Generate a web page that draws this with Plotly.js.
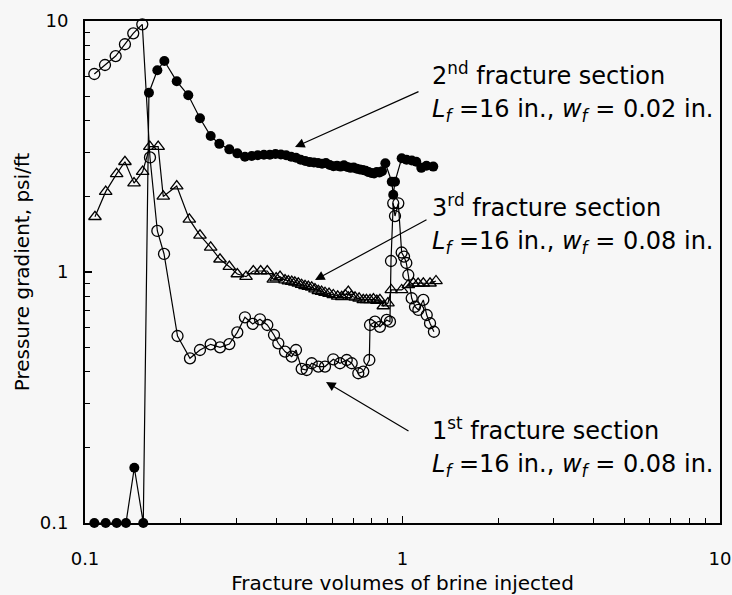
<!DOCTYPE html>
<html><head><meta charset="utf-8">
<script src="https://cdn.plot.ly/plotly-3.0.1.min.js"></script>
<style>html,body{margin:0;padding:0;background:#f7f7f7;} #chart{width:732px;height:595px;}</style>
</head><body><div id="chart"></div>
<script>
// 1st fracture section (open circles)
const sec1X = [0.107,0.1156,0.1249,0.1336,0.1419,0.1515,0.1602,0.169,0.1774,0.1956,0.2141,0.2302,0.2488,0.2662,0.2848,0.3018,0.319,0.3374,0.3557,0.3751,0.3938,0.4063,0.4266,0.4478,0.4619,0.4814,0.4992,0.5176,0.5431,0.5701,0.6053,0.6355,0.6673,0.6918,0.7258,0.7524,0.7862,0.7902,0.819,0.849,0.892,0.913,0.92,0.935,0.947,0.970,0.994,1.011,1.028,1.043,1.069,1.095,1.122,1.163,1.192,1.221,1.256];
const sec1Y = [6.15,6.68,7.25,8.08,8.93,9.70,2.86,1.457,1.18,0.556,0.453,0.489,0.515,0.501,0.516,0.575,0.660,0.621,0.648,0.615,0.561,0.520,0.482,0.460,0.489,0.411,0.407,0.433,0.420,0.420,0.449,0.433,0.446,0.433,0.395,0.401,0.446,0.615,0.634,0.605,0.644,0.634,1.106,1.878,1.671,1.878,1.196,1.151,1.086,0.973,0.786,0.727,0.706,0.774,0.674,0.625,0.578];

// 2nd fracture section (filled circles)
const sec2X = [0.107,0.1162,0.1258,0.1346,0.143,0.1526,0.159,0.169,0.1778,0.1945,0.2115,0.2302,0.2488,0.2649,0.2848,0.3018,0.319,0.335,0.350,0.366,0.382,0.398,0.414,0.430,0.446,0.462,0.478,0.494,0.510,0.526,0.542,0.558,0.574,0.590,0.606,0.622,0.638,0.654,0.670,0.686,0.702,0.718,0.734,0.750,0.766,0.782,0.798,0.814,0.830,0.846,0.862,0.883,0.925,0.935,0.947,0.994,1.03,1.07,1.105,1.146,1.19,1.25];
const sec2Y = [0.1,0.1,0.1,0.1,0.166,0.1,5.18,6.36,6.93,5.75,5.06,4.10,3.48,3.24,3.08,2.97,2.88,2.90,2.92,2.93,2.93,2.95,2.94,2.92,2.88,2.85,2.80,2.77,2.74,2.73,2.72,2.70,2.72,2.67,2.64,2.65,2.63,2.66,2.62,2.60,2.61,2.58,2.56,2.55,2.53,2.50,2.48,2.47,2.50,2.49,2.52,2.71,2.29,2.03,2.29,2.84,2.80,2.78,2.75,2.60,2.65,2.63];

// 3rd fracture section (open triangles)
const sec3X = [0.1075,0.1162,0.1258,0.1336,0.1427,0.1519,0.160,0.170,0.1764,0.1945,0.2131,0.2302,0.2488,0.2662,0.2848,0.3018,0.3215,0.3389,0.3575,0.3751,0.3918,0.400,0.4114,0.4266,0.437,0.4478,0.458,0.4697,0.481,0.4932,0.505,0.5176,0.530,0.5431,0.556,0.5701,0.587,0.6053,0.625,0.6434,0.660,0.675,0.690,0.7087,0.730,0.7524,0.770,0.7902,0.810,0.830,0.849,0.870,0.900,0.922,0.994,1.043,1.082,1.12,1.163,1.221,1.275];
const sec3Y = [1.66,2.09,2.46,2.75,2.26,2.51,3.16,3.16,2.0,2.20,1.62,1.40,1.254,1.124,1.05,0.982,0.958,1.009,1.009,1.009,0.935,0.945,0.958,0.929,0.92,0.915,0.91,0.902,0.89,0.88,0.875,0.869,0.855,0.842,0.835,0.827,0.82,0.81,0.80,0.797,0.81,0.835,0.80,0.793,0.785,0.774,0.775,0.774,0.78,0.77,0.774,0.732,0.752,0.848,0.848,0.888,0.902,0.90,0.902,0.902,0.921];

const tickVals = [0.1, 1, 10];
const tickText = ['0.1', '1', '10'];
const minorVals = [0.2,0.3,0.4,0.5,0.6,0.7,0.8,0.9,2,3,4,5,6,7,8,9];

const xTitle = 'Fracture volumes of brine injected';
const yTitle = 'Pressure gradient, psi/ft';
const labels = [
  '2<sup>nd</sup> fracture section',
  '<i>L</i><sub><i>f</i></sub> =16 in., <i>w</i><sub><i>f</i></sub> = 0.02 in.',
  '3<sup>rd</sup> fracture section',
  '<i>L</i><sub><i>f</i></sub> =16 in., <i>w</i><sub><i>f</i></sub> = 0.08 in.',
  '1<sup>st</sup> fracture section',
  '<i>L</i><sub><i>f</i></sub> =16 in., <i>w</i><sub><i>f</i></sub> = 0.08 in.'
];

const FONT = 'DejaVu Sans, Arial, sans-serif';
const line = {color: '#000', width: 1.2};

const traces = [
  {x: sec1X, y: sec1Y, mode: 'lines+markers', type: 'scatter', cliponaxis: false,
   line: line, marker: {symbol: 'circle-open', size: 11, color: '#000', line: {width: 1.3, color: '#000'}}},
  {x: sec3X, y: sec3Y, mode: 'lines+markers', type: 'scatter', cliponaxis: false,
   line: line, marker: {symbol: 'triangle-up-open', size: 11, color: '#000', line: {width: 1.3, color: '#000'}}},
  {x: sec2X, y: sec2Y, mode: 'lines+markers', type: 'scatter', cliponaxis: false,
   line: line, marker: {symbol: 'circle', size: 10, color: '#000'}}
];

function axis(title, standoff) {
  return {
    type: 'log', range: [-1, 1], autorange: false,
    showline: true, linecolor: '#000', linewidth: 2, mirror: true,
    showgrid: false, zeroline: false,
    ticks: 'inside', ticklen: 7, tickwidth: 1.2, tickcolor: '#000',
    tickmode: 'array', tickvals: tickVals, ticktext: tickText,
    tickfont: {family: FONT, size: 18, color: '#000'},
    ticklabelstandoff: standoff,
    minor: {ticks: 'inside', ticklen: 5, tickwidth: 1, tickcolor: '#000', tickmode: 'array', tickvals: minorVals, showgrid: false},
    title: {text: title, font: {family: FONT, size: 20, color: '#000'}}
  };
}

const xa = axis(xTitle, 18); xa.title.standoff = 16;
const ya = axis(yTitle, 11); ya.title.standoff = 5;

function px(x) { return (x - 85) / 635; }
function py(y) { return 1 - (y - 21) / 502; }

const textPos = [[430, 74], [430, 110], [430, 206], [430, 242], [430, 429], [430, 465]];
const annotations = labels.map((t, i) => ({
  text: t, xref: 'paper', yref: 'paper', x: px(textPos[i][0]), y: py(textPos[i][1]),
  xanchor: 'left', yanchor: 'middle', showarrow: false,
  font: {family: FONT, size: 24, color: '#000'}
}));
// arrows: [tipX, tipY, tailX, tailY] in pixels
const arrows = [[295, 147, 420, 91], [315, 280, 428, 219], [326, 382, 410, 432]];
arrows.forEach(a => annotations.push({
  text: '', xref: 'paper', yref: 'paper', x: px(a[0]), y: py(a[1]),
  ax: a[2] - a[0], ay: a[3] - a[1], showarrow: true,
  arrowhead: 2, arrowsize: 1.6, arrowwidth: 1.2, arrowcolor: '#000', standoff: 0, startstandoff: 0
}));

const layout = {
  width: 732, height: 595,
  margin: {l: 85, r: 12, t: 21, b: 72},
  paper_bgcolor: '#f7f7f7', plot_bgcolor: '#f7f7f7',
  showlegend: false,
  font: {family: FONT, color: '#000'},
  xaxis: xa, yaxis: ya,
  annotations: annotations
};

Plotly.newPlot('chart', traces, layout, {staticPlot: true, displayModeBar: false});
</script>
</body></html>
